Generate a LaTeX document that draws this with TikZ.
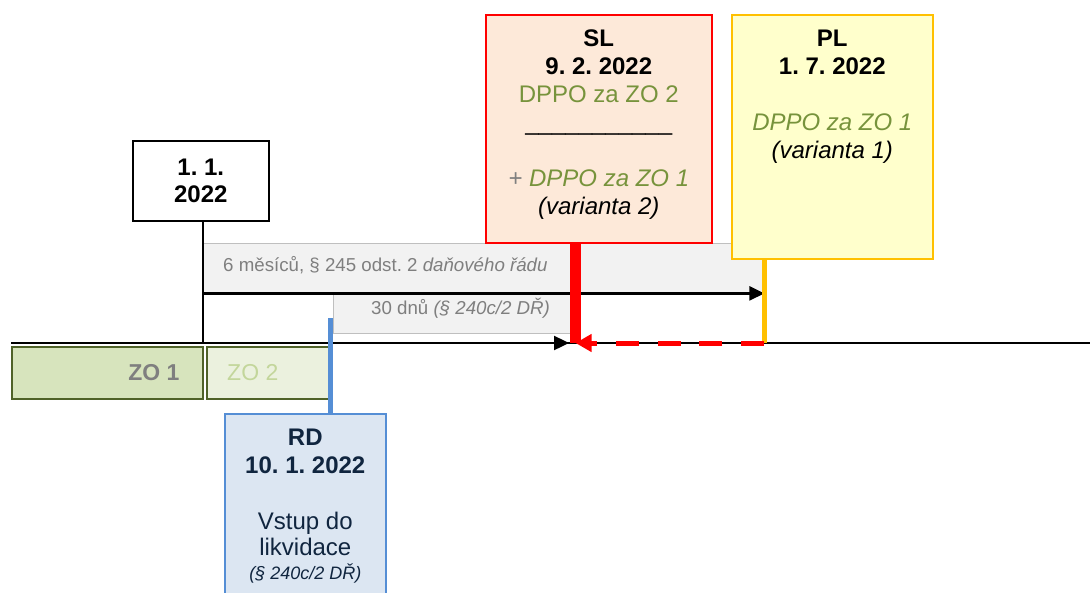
\documentclass[tikz,border=0pt]{standalone}
\usepackage{fontspec}
\setmainfont{Liberation Sans}
\usepackage{xcolor}
\usetikzlibrary{arrows.meta,positioning,calc}
\frenchspacing
\newcommand{\natspace}{\spaceskip=\fontdimen2\font\xspaceskip=\fontdimen2\font\relax}

\definecolor{zoafill}{HTML}{D7E4BD}
\definecolor{zobfill}{HTML}{EBF1DE}
\definecolor{zoline}{HTML}{4F6228}
\definecolor{zobtext}{HTML}{C3D69B}
\definecolor{greytext}{HTML}{7F7F7F}
\definecolor{greyfill}{HTML}{F2F2F2}
\definecolor{greyline}{HTML}{BFBFBF}
\definecolor{slfill}{HTML}{FDE9D9}
\definecolor{plfill}{HTML}{FFFFCC}
\definecolor{plline}{HTML}{FFC000}
\definecolor{rdfill}{HTML}{DCE6F2}
\definecolor{rdline}{HTML}{558ED5}
\definecolor{rdtext}{HTML}{10253F}
\definecolor{dppogreen}{HTML}{77933C}

\begin{document}
\begin{tikzpicture}[
  x=1pt, y=-1pt,
  frame/.style={draw, line width=1.6pt, inner sep=0pt, anchor=north west},
  period/.style={frame, fill=greyfill, draw=greyline, line width=1.4pt},
  boxtxt/.style={anchor=base, align=center, inner sep=0pt,
    font=\fontsize{24}{28}\selectfont,
    execute at begin node=\natspace},
  smalltxt/.style={anchor=base west, inner sep=0pt, text=greytext,
    font=\fontsize{18.7}{22}\selectfont},
  axis/.style={line width=2.4pt},
  tip/.style={-{Triangle[length=15pt,width=14pt]}}
]
  \useasboundingbox (0,0) rectangle (1090,592);

  % points on the time axis
  \coordinate (tl0) at (11,343);
  \coordinate (tl1) at (1092,343);
  \coordinate (t11) at (203,343);
  \coordinate (trd) at (330.5,343);
  \coordinate (tsl) at (575.5,343);
  \coordinate (tpl) at (764,343);
  \coordinate (rdtop) at (330.5,318);

  % periods
  \node[period, minimum width=560pt, minimum height=49pt] (g6) at (203,243) {};
  \node[period, minimum width=240pt, minimum height=41pt] (g30) at (333,292) {};
  \node[smalltxt] at (223,271.7) {6 měsíců, § 245 odst. 2 \textit{daňového řádu}};
  \node[smalltxt] at (371,314.7) {30 dnů \textit{(§ 240c/2 DŘ)}};

  % ZO boxes
  \node[frame, fill=zoafill, draw=zoline, minimum width=191pt, minimum height=52pt] (zo1) at (11,346) {};
  \node[frame, fill=zobfill, draw=zoline, minimum width=122pt, minimum height=52pt] (zo2) at (206,346) {};
  \node[anchor=east, inner sep=0pt, text=greytext, font=\fontsize{23}{26}\selectfont\bfseries]
    at ([xshift=-24pt]zo1.east) {ZO 1};
  \node[anchor=west, inner sep=0pt, text=zobtext, font=\fontsize{23}{26}\selectfont]
    at ([xshift=21pt]zo2.west) {ZO 2};

  % time axis and arrows
  \draw[axis] (tl0) -- (tl1);
  \node[frame, fill=white, draw=black, minimum width=136pt, minimum height=80pt,
    align=center, font=\fontsize{24}{27}\selectfont\bfseries] (d11) at (132,140) {1. 1.\\ 2022};
  \draw[axis] (d11.south -| t11) -- (t11);
  \draw[axis, tip] (t11 |- g6.south) -- (g6.south east);
  \draw[axis, tip, shorten >=6.5pt] (g30.south west |- tsl) -- (tsl);

  % SL
  \node[frame, fill=slfill, draw=red, minimum width=226pt, minimum height=228pt] (sl) at (485,14) {};
  \node[boxtxt, text width=220pt] at ([yshift=-32.5pt]sl.north)
    {\textbf{SL}\\ \textbf{9. 2. 2022}\\ \textcolor{dppogreen}{DPPO za ZO 2}\\
     \_\_\_\_\_\_\_\_\_\_\_\\[28pt]
     \textit{\textcolor{greytext}{+} \textcolor{dppogreen}{DPPO za ZO 1}}\\
     \textit{(varianta 2)}};

  % PL
  \node[frame, fill=plfill, draw=plline, minimum width=201pt, minimum height=244pt] (pl) at (731,14) {};
  \node[boxtxt, text width=195pt] at ([yshift=-32.5pt]pl.north)
    {\textbf{PL}\\ \textbf{1. 7. 2022}\\[28pt]
     \textit{\textcolor{dppogreen}{DPPO za ZO 1}}\\
     \textit{(varianta 1)}};

  % RD
  \node[frame, fill=rdfill, draw=rdline, minimum width=161pt, minimum height=190pt] (rd) at (224,413) {};
  \node[boxtxt, text width=155pt, text=rdtext] at ([yshift=-32.5pt]rd.north)
    {\textbf{RD}\\ \textbf{10. 1. 2022}\\[28pt]
     Vstup do\\[-2pt] likvidace\\[-4pt]
     {\fontsize{18}{22}\selectfont\natspace\itshape (§ 240c/2 DŘ)}};

  % markers
  \draw[line width=5pt, rdline] (rdtop) -- (rd.north -| rdtop);
  \draw[line width=5pt, plline] (pl.south -| tpl) -- (tpl);
  \draw[line width=5pt, red, dash pattern=on 23pt off 18.7pt,
    -{Triangle[length=16pt,width=17pt]}] (tpl) -- (tsl);
  \draw[line width=11.5pt, red] (sl.south -| tsl) -- (tsl);
\end{tikzpicture}
\end{document}
